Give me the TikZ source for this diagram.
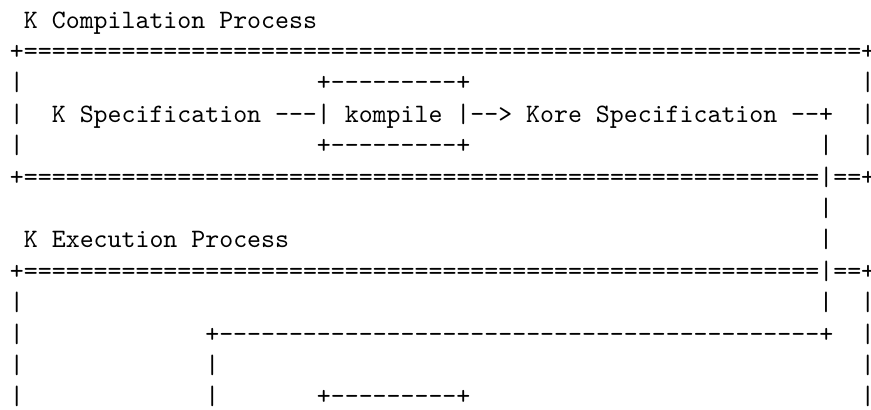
\documentclass[tikz,border=0pt]{standalone}
\usepackage{fontspec}
\setmonofont{lmmono10-regular.otf}
\newcommand{\asciifont}{\ttfamily\fontsize{13.29pt}{15.7pt}\selectfont}
\tikzset{ascii/.style={font=\asciifont, inner sep=0pt, outer sep=0pt, anchor=base west}}

\begin{document}
\begin{tikzpicture}[x=6.975pt, y=-15.7pt]
  \useasboundingbox (-5pt,14pt) rectangle (430.5pt,-190.5pt);
  \node[ascii] (comptitle) at (1,0) {K Compilation Process};
  \node[ascii] (comptop) at (0,1) {+============================================================+};
  \node[ascii] (compl3) at (0,2) {|};
  \node[ascii] (compbox3) at (22,2) {+---------+};
  \node[ascii] (compr3) at (61,2) {|};
  \node[ascii] (compl4) at (0,3) {|};
  \node[ascii] (kspec) at (3,3) {K Specification};
  \node[ascii] (kspecarrow) at (19,3) {---|};
  \node[ascii] (kompile) at (24,3) {kompile};
  \node[ascii] (kompilearrow) at (32,3) {|-->};
  \node[ascii] (kore) at (37,3) {Kore Specification};
  \node[ascii] (korelink) at (56,3) {--+};
  \node[ascii] (compr4) at (61,3) {|};
  \node[ascii] (compl5) at (0,4) {|};
  \node[ascii] (compbox5) at (22,4) {+---------+};
  \node[ascii] (korebar5) at (58,4) {|};
  \node[ascii] (compr5) at (61,4) {|};
  \node[ascii] (compbottom) at (0,5) {+=========================================================|==+};
  \node[ascii] (korebar7) at (58,6) {|};
  \node[ascii] (exectitle) at (1,7) {K Execution Process};
  \node[ascii] (korebar8) at (58,7) {|};
  \node[ascii] (exectop) at (0,8) {+=========================================================|==+};
  \node[ascii] (execl10) at (0,9) {|};
  \node[ascii] (korebar10) at (58,9) {|};
  \node[ascii] (execr10) at (61,9) {|};
  \node[ascii] (execl11) at (0,10) {|};
  \node[ascii] (execloop) at (14,10) {+-------------------------------------------+};
  \node[ascii] (execr11) at (61,10) {|};
  \node[ascii] (execl12) at (0,11) {|};
  \node[ascii] (loopbar12) at (14,11) {|};
  \node[ascii] (execr12) at (61,11) {|};
  \node[ascii] (execl13) at (0,12) {|};
  \node[ascii] (loopbar13) at (14,12) {|};
  \node[ascii] (execbox13) at (22,12) {+---------+};
  \node[ascii] (execr13) at (61,12) {|};
\end{tikzpicture}
\end{document}
